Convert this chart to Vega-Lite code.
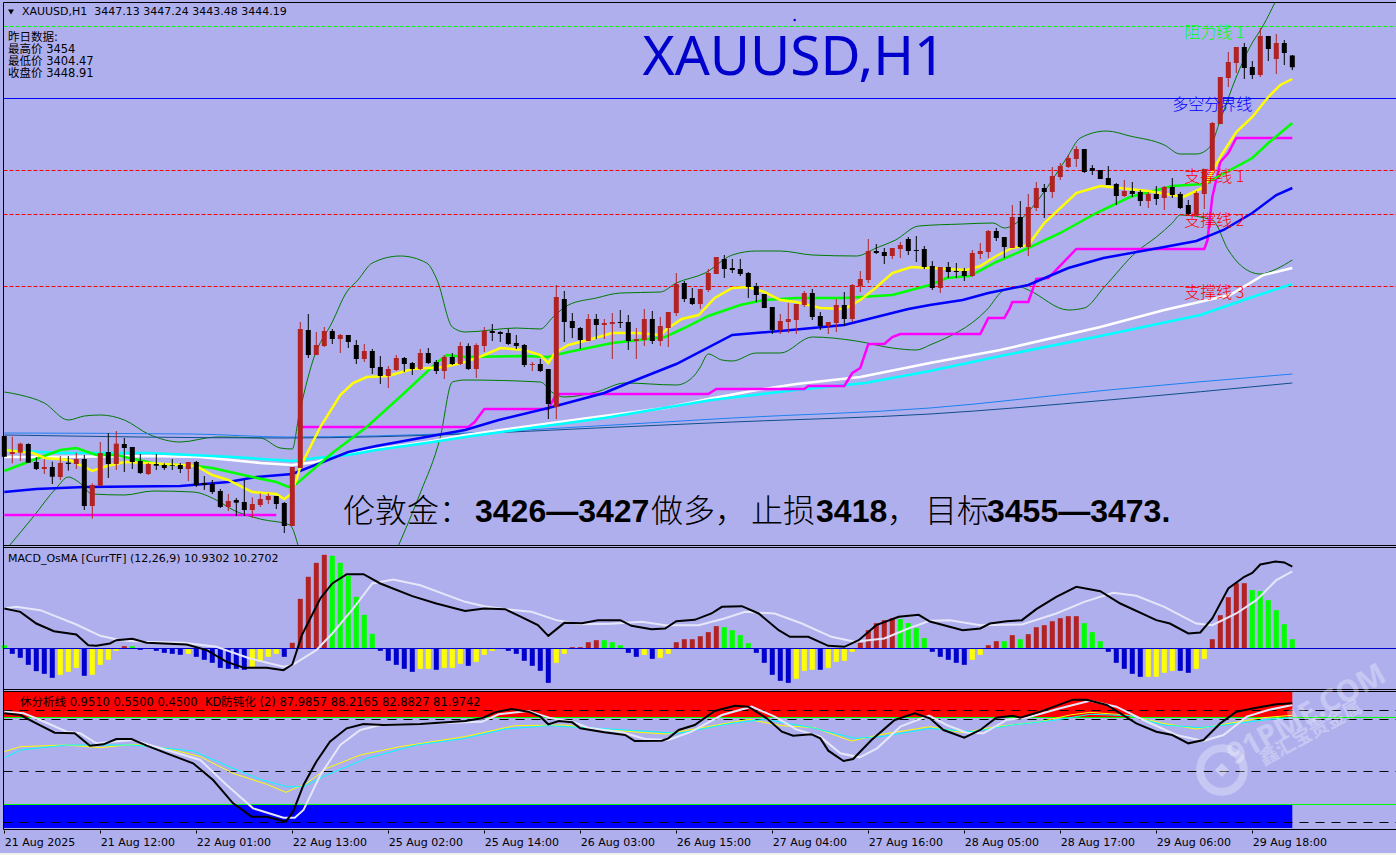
{
"$schema":"https://vega.github.io/schema/vega-lite/v6.json",
"background":"#AFAFEE",
"padding":0,
"autosize":{"type":"none"},
"width":1396,
"height":855,
"view":{"stroke":null},
"resolve":{"scale":{"y":"independent","color":"independent"}},
"datasets":{
"candles":[
{"i":0,"o":3352,"h":3352,"l":3346.83,"c":3346.83},{"i":1,"o":3347.5,"h":3351.83,"l":3345.17,"c":3348},{"i":2,"o":3347.83,"h":3350.33,"l":3345.75,"c":3350.08},{"i":3,"o":3350,"h":3350.17,"l":3345.33,"c":3345.33},{"i":4,"o":3345.5,"h":3346.67,"l":3343.5,"c":3343.75},{"i":5,"o":3343.75,"h":3346.25,"l":3342.5,"c":3344.25},{"i":6,"o":3344.25,"h":3345.58,"l":3340,"c":3341.83},{"i":7,"o":3341.75,"h":3347,"l":3341,"c":3345.25},{"i":8,"o":3345.33,"h":3347,"l":3343.33,"c":3345},{"i":9,"o":3345,"h":3347.83,"l":3343.75,"c":3346.25},
{"i":10,"o":3346.25,"h":3347.25,"l":3333.5,"c":3334.5},{"i":11,"o":3334.5,"h":3340.17,"l":3331.33,"c":3339.75},{"i":12,"o":3339.58,"h":3350.5,"l":3339.5,"c":3347.75},{"i":13,"o":3348,"h":3352.75,"l":3341.5,"c":3345},{"i":14,"o":3345,"h":3353.25,"l":3343.5,"c":3350.08},{"i":15,"o":3350,"h":3351.5,"l":3343,"c":3349},{"i":16,"o":3349.25,"h":3349.25,"l":3343.75,"c":3345.5},{"i":17,"o":3345.75,"h":3347.5,"l":3342.5,"c":3342.75},{"i":18,"o":3342.5,"h":3345.25,"l":3342.25,"c":3345},{"i":19,"o":3345,"h":3347.5,"l":3343.5,"c":3344.58},
{"i":20,"o":3344.75,"h":3345.17,"l":3343.5,"c":3344},{"i":21,"o":3344.75,"h":3346.25,"l":3343.5,"c":3344.58},{"i":22,"o":3344.75,"h":3345.25,"l":3342.75,"c":3343.75},{"i":23,"o":3343.75,"h":3345.5,"l":3340.75,"c":3345.5},{"i":24,"o":3345.5,"h":3345.75,"l":3339.25,"c":3339.75},{"i":25,"o":3340.25,"h":3342,"l":3338.5,"c":3339.75},{"i":26,"o":3340,"h":3341,"l":3337.5,"c":3338},{"i":27,"o":3338.25,"h":3338.75,"l":3334,"c":3334.25},{"i":28,"o":3334.25,"h":3337.5,"l":3333.25,"c":3335.75},{"i":29,"o":3336,"h":3336.5,"l":3332,"c":3335.33},
{"i":30,"o":3335.5,"h":3341,"l":3332,"c":3333.5},{"i":31,"o":3333.5,"h":3336.67,"l":3331.5,"c":3335},{"i":32,"o":3334.75,"h":3337.67,"l":3334.25,"c":3336.25},{"i":33,"o":3336,"h":3337.67,"l":3335,"c":3337},{"i":34,"o":3337,"h":3337,"l":3333.75,"c":3335},{"i":35,"o":3335.25,"h":3335.5,"l":3327.75,"c":3329.5},{"i":36,"o":3329.5,"h":3344.25,"l":3329.5,"c":3344.25},{"i":37,"o":3344,"h":3380.5,"l":3344,"c":3378.75},{"i":38,"o":3378.5,"h":3382.5,"l":3371.5,"c":3372.25},{"i":39,"o":3372.25,"h":3378,"l":3372.25,"c":3374.75},
{"i":40,"o":3374.5,"h":3379.25,"l":3374.25,"c":3378.25},{"i":41,"o":3378.25,"h":3378.75,"l":3375,"c":3376.25},{"i":42,"o":3376.25,"h":3377.5,"l":3372.75,"c":3377.25},{"i":43,"o":3377.25,"h":3377.25,"l":3374,"c":3375.5},{"i":44,"o":3374.75,"h":3376,"l":3370,"c":3371.25},{"i":45,"o":3371.25,"h":3375,"l":3370.5,"c":3373.25},{"i":46,"o":3373.25,"h":3373.75,"l":3367.5,"c":3369},{"i":47,"o":3369.25,"h":3372,"l":3365,"c":3367},{"i":48,"o":3367,"h":3369.5,"l":3364,"c":3368.75},{"i":49,"o":3368.5,"h":3372.25,"l":3368.25,"c":3371.5},
{"i":50,"o":3371.5,"h":3371.75,"l":3368,"c":3370},{"i":51,"o":3370.25,"h":3370.5,"l":3367.25,"c":3368.75},{"i":52,"o":3368.75,"h":3373.75,"l":3368.5,"c":3372.75},{"i":53,"o":3372.75,"h":3374,"l":3370,"c":3370.25},{"i":54,"o":3370.5,"h":3371,"l":3367.5,"c":3368.25},{"i":55,"o":3368.25,"h":3372.25,"l":3366.25,"c":3371.75},{"i":56,"o":3371.75,"h":3372.75,"l":3369.75,"c":3370},{"i":57,"o":3370,"h":3375.5,"l":3369.75,"c":3374.5},{"i":58,"o":3374.5,"h":3375.17,"l":3368.5,"c":3368.75},{"i":59,"o":3368.75,"h":3375.17,"l":3366.5,"c":3374.75},
{"i":60,"o":3374.5,"h":3379.25,"l":3373,"c":3378.25},{"i":61,"o":3378.25,"h":3380,"l":3375.75,"c":3377.75},{"i":62,"o":3378,"h":3378.25,"l":3375.5,"c":3377.5},{"i":63,"o":3377.75,"h":3378.75,"l":3374.75,"c":3375},{"i":64,"o":3375.25,"h":3377.25,"l":3373.75,"c":3374.5},{"i":65,"o":3374.75,"h":3375,"l":3369.25,"c":3369.75},{"i":66,"o":3369.75,"h":3370.5,"l":3368.25,"c":3370},{"i":67,"o":3370,"h":3371.25,"l":3368,"c":3368.25},{"i":68,"o":3368.75,"h":3368.75,"l":3356.25,"c":3360},{"i":69,"o":3359.25,"h":3389.75,"l":3356.25,"c":3386.75},
{"i":70,"o":3386.25,"h":3388.25,"l":3375.5,"c":3380.5},{"i":71,"o":3380.75,"h":3382.75,"l":3376.5,"c":3379},{"i":72,"o":3379,"h":3379.25,"l":3373.75,"c":3376},{"i":73,"o":3375.75,"h":3382.5,"l":3375.75,"c":3381.25},{"i":74,"o":3381.25,"h":3382.5,"l":3376.25,"c":3379.75},{"i":75,"o":3379.75,"h":3381.25,"l":3376.25,"c":3380.25},{"i":76,"o":3380,"h":3382.75,"l":3371.25,"c":3380.5},{"i":77,"o":3380.5,"h":3383.5,"l":3379,"c":3380.25},{"i":78,"o":3380.5,"h":3382.25,"l":3373.5,"c":3375.75},{"i":79,"o":3375.75,"h":3379,"l":3371.25,"c":3376.25},
{"i":80,"o":3376,"h":3383.75,"l":3374.5,"c":3381.25},{"i":81,"o":3381.25,"h":3383.25,"l":3375,"c":3375.75},{"i":82,"o":3375.75,"h":3381.75,"l":3374.5,"c":3379.5},{"i":83,"o":3379,"h":3383,"l":3374.25,"c":3383},{"i":84,"o":3382.75,"h":3392.75,"l":3382,"c":3390},{"i":85,"o":3390.25,"h":3390.75,"l":3385.5,"c":3386.25},{"i":86,"o":3386.5,"h":3389,"l":3384.75,"c":3385},{"i":87,"o":3385,"h":3388.75,"l":3383.75,"c":3388.75},{"i":88,"o":3388.5,"h":3393.75,"l":3388,"c":3392.75},{"i":89,"o":3392.5,"h":3396.75,"l":3392.5,"c":3396.75},
{"i":90,"o":3396.25,"h":3397.25,"l":3391.5,"c":3393.75},{"i":91,"o":3394,"h":3396.25,"l":3392.75,"c":3393.5},{"i":92,"o":3393.75,"h":3396.25,"l":3392,"c":3392.5},{"i":93,"o":3392.75,"h":3393,"l":3386.5,"c":3389.25},{"i":94,"o":3389.5,"h":3390.25,"l":3385.5,"c":3387.25},{"i":95,"o":3387.5,"h":3387.5,"l":3384,"c":3384},{"i":96,"o":3384.25,"h":3384.25,"l":3377.5,"c":3378.5},{"i":97,"o":3378.5,"h":3382.5,"l":3377.5,"c":3380.75},{"i":98,"o":3380.5,"h":3385.25,"l":3377.75,"c":3381.25},{"i":99,"o":3381,"h":3385,"l":3377.5,"c":3385},
{"i":100,"o":3384.75,"h":3388.25,"l":3384.25,"c":3387.75},{"i":101,"o":3387.75,"h":3388.75,"l":3381,"c":3381.75},{"i":102,"o":3382,"h":3383,"l":3378.5,"c":3379.5},{"i":103,"o":3379.5,"h":3380.5,"l":3377.5,"c":3380.5},{"i":104,"o":3380.25,"h":3386.25,"l":3378,"c":3384.75},{"i":105,"o":3384.75,"h":3388,"l":3379.5,"c":3381.25},{"i":106,"o":3381.25,"h":3390,"l":3380.5,"c":3389.75},{"i":107,"o":3389.5,"h":3393.25,"l":3388,"c":3391.25},{"i":108,"o":3391,"h":3401.25,"l":3390.25,"c":3398.25},{"i":109,"o":3398.25,"h":3400,"l":3397.5,"c":3397.75},
{"i":110,"o":3398,"h":3399,"l":3395,"c":3397},{"i":111,"o":3397,"h":3399,"l":3396.25,"c":3399},{"i":112,"o":3398.75,"h":3400.5,"l":3396.5,"c":3399.75},{"i":113,"o":3401.25,"h":3401.75,"l":3397.25,"c":3398.25},{"i":114,"o":3398.5,"h":3402,"l":3395.5,"c":3398.25},{"i":115,"o":3398.75,"h":3399.5,"l":3393.75,"c":3394.25},{"i":116,"o":3394.5,"h":3395.75,"l":3388.5,"c":3389},{"i":117,"o":3389,"h":3394.25,"l":3387.75,"c":3394.25},{"i":118,"o":3394.25,"h":3395.5,"l":3391.5,"c":3393},{"i":119,"o":3393.25,"h":3395.25,"l":3391.5,"c":3393},
{"i":120,"o":3393.25,"h":3394,"l":3390.75,"c":3392},{"i":121,"o":3392,"h":3398.5,"l":3391.75,"c":3397.75},{"i":122,"o":3397.5,"h":3400.25,"l":3396.25,"c":3398.25},{"i":123,"o":3398,"h":3403.5,"l":3396.5,"c":3403.25},{"i":124,"o":3403.25,"h":3404,"l":3400.75,"c":3401.5},{"i":125,"o":3401.75,"h":3401.75,"l":3396.5,"c":3399.25},{"i":126,"o":3399,"h":3409.75,"l":3399,"c":3406.75},{"i":127,"o":3406.75,"h":3410.75,"l":3399,"c":3399.25},{"i":128,"o":3399.25,"h":3412.5,"l":3397,"c":3409.25},{"i":129,"o":3409,"h":3415.5,"l":3408.25,"c":3414},
{"i":130,"o":3414,"h":3415,"l":3406.5,"c":3413},{"i":131,"o":3413,"h":3419.25,"l":3411.5,"c":3417},{"i":132,"o":3416.75,"h":3420.25,"l":3416,"c":3419.5},{"i":133,"o":3419.25,"h":3422.25,"l":3419,"c":3421.5},{"i":134,"o":3421.25,"h":3424.5,"l":3419.25,"c":3423.75},{"i":135,"o":3423.75,"h":3423.75,"l":3417.75,"c":3418},{"i":136,"o":3419,"h":3419.75,"l":3417.25,"c":3418.25},{"i":137,"o":3418.5,"h":3418.5,"l":3416.25,"c":3416.25},{"i":138,"o":3416.5,"h":3419.5,"l":3414.75,"c":3414.75},{"i":139,"o":3415,"h":3415.25,"l":3409.75,"c":3412},
{"i":140,"o":3412,"h":3416,"l":3411.75,"c":3413.25},{"i":141,"o":3413.25,"h":3415.5,"l":3411.75,"c":3412.5},{"i":142,"o":3413,"h":3413.5,"l":3409.5,"c":3410.75},{"i":143,"o":3410.75,"h":3413,"l":3409,"c":3412.5},{"i":144,"o":3412.5,"h":3414.5,"l":3409.75,"c":3411.25},{"i":145,"o":3411.5,"h":3414.5,"l":3408.5,"c":3414.25},{"i":146,"o":3414.25,"h":3416.5,"l":3411.5,"c":3412.25},{"i":147,"o":3412.5,"h":3413,"l":3408.75,"c":3409},{"i":148,"o":3409.75,"h":3411,"l":3407,"c":3407.5},{"i":149,"o":3407.25,"h":3413.25,"l":3407.25,"c":3412.75},
{"i":150,"o":3412.5,"h":3418.75,"l":3408.75,"c":3418.75},{"i":151,"o":3418.5,"h":3430.5,"l":3418.5,"c":3430.25},{"i":152,"o":3430,"h":3441.75,"l":3430,"c":3441.75},{"i":153,"o":3441.5,"h":3448,"l":3439.25,"c":3445.5},{"i":154,"o":3445.25,"h":3449.25,"l":3442.75,"c":3449.25},{"i":155,"o":3449.25,"h":3450.25,"l":3441.25,"c":3444},{"i":156,"o":3444.25,"h":3445.75,"l":3441.25,"c":3442.25},{"i":157,"o":3442.25,"h":3454,"l":3441.75,"c":3452},{"i":158,"o":3452,"h":3452,"l":3445.75,"c":3448.75},{"i":159,"o":3446.25,"h":3452.5,"l":3442.5,"c":3450.25},
{"i":160,"o":3450.25,"h":3451,"l":3444.75,"c":3447.75},{"i":161,"o":3447.13,"h":3447.24,"l":3443.48,"c":3444.19}
],
"thin":[
{"s":"upper","i":0,"v":3363},{"s":"upper","i":2,"v":3362.25},{"s":"upper","i":5,"v":3360.25},{"s":"upper","i":8,"v":3356},{"s":"upper","i":10,"v":3357},{"s":"upper","i":12,"v":3357.25},{"s":"upper","i":15,"v":3356},{"s":"upper","i":18,"v":3352.5},{"s":"upper","i":22,"v":3350.5},{"s":"upper","i":26.5,"v":3351.75},{"s":"upper","i":32,"v":3351.5},{"s":"upper","i":34.5,"v":3349},{"s":"upper","i":36,"v":3348.75},{"s":"upper","i":36.8,"v":3356.75},{"s":"upper","i":38.6,"v":3371},{"s":"upper","i":41,"v":3380.5},{"s":"upper","i":42.8,"v":3388},{"s":"upper","i":44.2,"v":3391},{"s":"upper","i":46,"v":3395.25},{"s":"upper","i":49.5,"v":3397},{"s":"upper","i":52.8,"v":3395.25},{"s":"upper","i":54.1,"v":3391},{"s":"upper","i":56,"v":3379.25},{"s":"upper","i":57.6,"v":3378},{"s":"upper","i":64,"v":3379},{"s":"upper","i":67,"v":3378.75},{"s":"upper","i":68.6,"v":3381.75},{"s":"upper","i":70.5,"v":3384.75},{"s":"upper","i":74,"v":3386.5},{"s":"upper","i":77,"v":3387.75},{"s":"upper","i":82,"v":3388},{"s":"upper","i":84,"v":3390.25},{"s":"upper","i":87.6,"v":3392.75},{"s":"upper","i":91,"v":3397.25},{"s":"upper","i":94,"v":3398.25},{"s":"upper","i":97,"v":3398.25},{"s":"upper","i":101,"v":3397.25},{"s":"upper","i":106.5,"v":3397},{"s":"upper","i":109,"v":3399},{"s":"upper","i":111.4,"v":3401},{"s":"upper","i":114.3,"v":3404.5},{"s":"upper","i":119.8,"v":3405},{"s":"upper","i":123.6,"v":3405.25},{"s":"upper","i":125,"v":3404},{"s":"upper","i":127.4,"v":3406.75},{"s":"upper","i":129.5,"v":3411.75},{"s":"upper","i":132.8,"v":3421.5},{"s":"upper","i":134.5,"v":3426.5},{"s":"upper","i":137.8,"v":3428.25},{"s":"upper","i":140.7,"v":3427},{"s":"upper","i":145,"v":3424.75},{"s":"upper","i":147,"v":3422.5},{"s":"upper","i":149,"v":3422.5},{"s":"upper","i":150.7,"v":3424.25},{"s":"upper","i":152,"v":3431},{"s":"upper","i":154,"v":3441.75},{"s":"upper","i":155.7,"v":3449.25},{"s":"upper","i":157.4,"v":3454.75},{"s":"upper","i":158.8,"v":3460.25},
{"s":"lower1","i":0.7,"v":3324.75},{"s":"lower1","i":3.6,"v":3331.75},{"s":"lower1","i":6.5,"v":3339},{"s":"lower1","i":8,"v":3341.75},{"s":"lower1","i":9.3,"v":3340.5},{"s":"lower1","i":11,"v":3337.5},{"s":"lower1","i":15,"v":3337.25},{"s":"lower1","i":18.6,"v":3338.25},{"s":"lower1","i":23.6,"v":3338},{"s":"lower1","i":26.5,"v":3336},{"s":"lower1","i":28.6,"v":3333.5},{"s":"lower1","i":32,"v":3331.25},{"s":"lower1","i":35.7,"v":3329.75},{"s":"lower1","i":36.7,"v":3324.75},
{"s":"lower2","i":49.3,"v":3324.75},{"s":"lower2","i":52,"v":3337.75},{"s":"lower2","i":54.5,"v":3351.75},{"s":"lower2","i":56,"v":3365.5},{"s":"lower2","i":57.6,"v":3366},{"s":"lower2","i":67,"v":3365.5},{"s":"lower2","i":68.6,"v":3362.75},{"s":"lower2","i":70,"v":3361.75},{"s":"lower2","i":74,"v":3363},{"s":"lower2","i":77.6,"v":3365.25},{"s":"lower2","i":84,"v":3364.75},{"s":"lower2","i":86.3,"v":3367.25},{"s":"lower2","i":87,"v":3369.25},{"s":"lower2","i":88,"v":3372.5},{"s":"lower2","i":89.7,"v":3371},{"s":"lower2","i":91,"v":3370.75},{"s":"lower2","i":94,"v":3372.75},{"s":"lower2","i":97,"v":3372.75},{"s":"lower2","i":101,"v":3376.75},{"s":"lower2","i":106.5,"v":3375.75},{"s":"lower2","i":111,"v":3374},{"s":"lower2","i":114,"v":3373.5},{"s":"lower2","i":115.7,"v":3374.75},{"s":"lower2","i":122.8,"v":3383.5},{"s":"lower2","i":125,"v":3388.5},{"s":"lower2","i":127,"v":3389.25},{"s":"lower2","i":128,"v":3388.5},{"s":"lower2","i":133,"v":3383.5},{"s":"lower2","i":135,"v":3384},{"s":"lower2","i":137.5,"v":3389.25},{"s":"lower2","i":141.5,"v":3398},{"s":"lower2","i":144,"v":3401.75},{"s":"lower2","i":146,"v":3405.25},{"s":"lower2","i":147,"v":3407.25},{"s":"lower2","i":151,"v":3406},{"s":"lower2","i":153,"v":3398.5},{"s":"lower2","i":154.5,"v":3394.75},{"s":"lower2","i":157,"v":3392.5},{"s":"lower2","i":159,"v":3393.75},{"s":"lower2","i":161,"v":3396},
{"s":"slow1","i":0,"v":3352.75},{"s":"slow1","i":23.6,"v":3352.5},{"s":"slow1","i":35.3,"v":3351.75},{"s":"slow1","i":57.6,"v":3352.75},{"s":"slow1","i":74,"v":3354.5},{"s":"slow1","i":91,"v":3356.5},{"s":"slow1","i":115.7,"v":3359},{"s":"slow1","i":138,"v":3363.5},{"s":"slow1","i":161,"v":3367.5},
{"s":"slow2","i":0,"v":3352.25},{"s":"slow2","i":35,"v":3351.5},{"s":"slow2","i":57.6,"v":3352.5},{"s":"slow2","i":74,"v":3354},{"s":"slow2","i":91,"v":3355.5},{"s":"slow2","i":115.7,"v":3357.5},{"s":"slow2","i":138,"v":3361},{"s":"slow2","i":161,"v":3365.25}
],
"thick":[
{"s":"ma144","i":0,"v":3346.75},{"s":"ma144","i":5,"v":3346.75},{"s":"ma144","i":18,"v":3347},{"s":"ma144","i":24.5,"v":3346.75},{"s":"ma144","i":32,"v":3345.25},{"s":"ma144","i":36,"v":3344.75},{"s":"ma144","i":39,"v":3345.5},{"s":"ma144","i":43,"v":3347.75},{"s":"ma144","i":53.6,"v":3350.75},{"s":"ma144","i":57.6,"v":3352.25},{"s":"ma144","i":63,"v":3353.75},{"s":"ma144","i":73,"v":3356.5},{"s":"ma144","i":82.6,"v":3359},{"s":"ma144","i":88,"v":3361.25},{"s":"ma144","i":93.4,"v":3363.25},{"s":"ma144","i":99,"v":3365},{"s":"ma144","i":107,"v":3366.75},{"s":"ma144","i":115.7,"v":3370.25},{"s":"ma144","i":124.5,"v":3373.5},{"s":"ma144","i":137,"v":3379.25},{"s":"ma144","i":145,"v":3383.5},{"s":"ma144","i":153.2,"v":3387.25},{"s":"ma144","i":157.4,"v":3392.25},{"s":"ma144","i":161,"v":3394},
{"s":"ma169","i":0,"v":3348.5},{"s":"ma169","i":7,"v":3347.75},{"s":"ma169","i":18,"v":3347.75},{"s":"ma169","i":28.6,"v":3346.75},{"s":"ma169","i":36,"v":3345.75},{"s":"ma169","i":39,"v":3346.5},{"s":"ma169","i":43,"v":3347.25},{"s":"ma169","i":46.5,"v":3348.5},{"s":"ma169","i":53.6,"v":3350.5},{"s":"ma169","i":57.6,"v":3351.75},{"s":"ma169","i":63,"v":3353.25},{"s":"ma169","i":75,"v":3356.5},{"s":"ma169","i":88.4,"v":3361},{"s":"ma169","i":99,"v":3363.5},{"s":"ma169","i":107.6,"v":3365.25},{"s":"ma169","i":115.7,"v":3368.25},{"s":"ma169","i":124.5,"v":3372},{"s":"ma169","i":137,"v":3377},{"s":"ma169","i":149.5,"v":3382.25},{"s":"ma169","i":156,"v":3386.75},{"s":"ma169","i":161,"v":3390},
{"s":"low1","i":0,"v":3332.25},{"s":"low1","i":34,"v":3332.25},
{"s":"low2","i":37,"v":3354.25},{"s":"low2","i":58,"v":3354.25},{"s":"low2","i":58.8,"v":3355.5},{"s":"low2","i":60,"v":3358.75},{"s":"low2","i":68,"v":3358.75},{"s":"low2","i":69,"v":3362.5},{"s":"low2","i":88,"v":3362.5},{"s":"low2","i":89,"v":3363.75},{"s":"low2","i":100,"v":3363.75},{"s":"low2","i":100.5,"v":3364.5},{"s":"low2","i":105,"v":3364.5},{"s":"low2","i":106,"v":3367.75},{"s":"low2","i":107,"v":3369},{"s":"low2","i":108,"v":3375},{"s":"low2","i":110,"v":3375},{"s":"low2","i":111,"v":3376.75},{"s":"low2","i":112,"v":3377.5},{"s":"low2","i":122,"v":3377.5},{"s":"low2","i":123,"v":3381.5},{"s":"low2","i":125,"v":3381.5},{"s":"low2","i":125.7,"v":3384},{"s":"low2","i":126,"v":3385.5},{"s":"low2","i":128,"v":3385.5},{"s":"low2","i":129,"v":3391.25},{"s":"low2","i":130.5,"v":3391.5},{"s":"low2","i":134,"v":3398.75},{"s":"low2","i":150,"v":3398.75},{"s":"low2","i":150.4,"v":3401},{"s":"low2","i":151,"v":3411.75},{"s":"low2","i":152,"v":3420.5},{"s":"low2","i":153,"v":3422.75},{"s":"low2","i":154,"v":3426.5},{"s":"low2","i":161,"v":3426.5},
{"s":"ma30","i":0,"v":3338},{"s":"ma30","i":4,"v":3338.75},{"s":"ma30","i":10,"v":3339.25},{"s":"ma30","i":22,"v":3339.5},{"s":"ma30","i":28,"v":3340.5},{"s":"ma30","i":31.5,"v":3341.75},{"s":"ma30","i":36,"v":3342.5},{"s":"ma30","i":43,"v":3348},{"s":"ma30","i":46.5,"v":3349.5},{"s":"ma30","i":52,"v":3351.5},{"s":"ma30","i":57.6,"v":3353.5},{"s":"ma30","i":61.8,"v":3356},{"s":"ma30","i":68,"v":3359},{"s":"ma30","i":75,"v":3362.75},{"s":"ma30","i":78,"v":3365.25},{"s":"ma30","i":84,"v":3370},{"s":"ma30","i":91,"v":3377.25},{"s":"ma30","i":97,"v":3378.25},{"s":"ma30","i":105,"v":3379.75},{"s":"ma30","i":113,"v":3383.75},{"s":"ma30","i":115.7,"v":3384.75},{"s":"ma30","i":119.8,"v":3386},{"s":"ma30","i":123,"v":3387.75},{"s":"ma30","i":128,"v":3389.75},{"s":"ma30","i":133,"v":3394},{"s":"ma30","i":137.4,"v":3396.5},{"s":"ma30","i":145,"v":3399.25},{"s":"ma30","i":149,"v":3400.75},{"s":"ma30","i":152.4,"v":3403.5},{"s":"ma30","i":156,"v":3407.75},{"s":"ma30","i":159,"v":3412.25},{"s":"ma30","i":161,"v":3414},
{"s":"ma10","i":0,"v":3343.25},{"s":"ma10","i":3.6,"v":3346},{"s":"ma10","i":7,"v":3348.5},{"s":"ma10","i":9,"v":3349},{"s":"ma10","i":11.5,"v":3347.25},{"s":"ma10","i":14,"v":3347.25},{"s":"ma10","i":19,"v":3345},{"s":"ma10","i":24,"v":3344.5},{"s":"ma10","i":26,"v":3344},{"s":"ma10","i":31,"v":3341.75},{"s":"ma10","i":34,"v":3340.5},{"s":"ma10","i":35.5,"v":3339.25},{"s":"ma10","i":36.5,"v":3340},{"s":"ma10","i":41,"v":3347.75},{"s":"ma10","i":45.3,"v":3354.25},{"s":"ma10","i":50,"v":3362.75},{"s":"ma10","i":54,"v":3370.25},{"s":"ma10","i":55.3,"v":3372.25},{"s":"ma10","i":57.6,"v":3371.75},{"s":"ma10","i":65,"v":3372},{"s":"ma10","i":68,"v":3371.75},{"s":"ma10","i":70.5,"v":3373},{"s":"ma10","i":76,"v":3375.25},{"s":"ma10","i":82.6,"v":3376.75},{"s":"ma10","i":85,"v":3379},{"s":"ma10","i":88,"v":3382},{"s":"ma10","i":92,"v":3384.75},{"s":"ma10","i":95,"v":3386},{"s":"ma10","i":99,"v":3386.5},{"s":"ma10","i":105,"v":3386.5},{"s":"ma10","i":111,"v":3387.25},{"s":"ma10","i":115.7,"v":3389.75},{"s":"ma10","i":117.8,"v":3391.5},{"s":"ma10","i":120.7,"v":3392},{"s":"ma10","i":124,"v":3395.5},{"s":"ma10","i":128,"v":3399},{"s":"ma10","i":132,"v":3402.75},{"s":"ma10","i":136.5,"v":3407.75},{"s":"ma10","i":140.7,"v":3411.75},{"s":"ma10","i":146,"v":3414.5},{"s":"ma10","i":150,"v":3415},{"s":"ma10","i":156,"v":3421.5},{"s":"ma10","i":158,"v":3425.25},{"s":"ma10","i":161,"v":3430.25},
{"s":"ma5","i":0,"v":3348.5},{"s":"ma5","i":3.6,"v":3347.75},{"s":"ma5","i":5,"v":3346.5},{"s":"ma5","i":8.2,"v":3346},{"s":"ma5","i":10.3,"v":3344},{"s":"ma5","i":11,"v":3343.25},{"s":"ma5","i":12.4,"v":3344.25},{"s":"ma5","i":15,"v":3345.5},{"s":"ma5","i":18,"v":3345.25},{"s":"ma5","i":22,"v":3344.75},{"s":"ma5","i":24,"v":3344.5},{"s":"ma5","i":26,"v":3342.25},{"s":"ma5","i":28,"v":3341},{"s":"ma5","i":31,"v":3338},{"s":"ma5","i":34,"v":3337.5},{"s":"ma5","i":35,"v":3336.25},{"s":"ma5","i":35.7,"v":3337.25},{"s":"ma5","i":36.5,"v":3341},{"s":"ma5","i":37,"v":3344.25},{"s":"ma5","i":39.5,"v":3354.25},{"s":"ma5","i":42,"v":3362.25},{"s":"ma5","i":43.6,"v":3365.25},{"s":"ma5","i":45.3,"v":3366.75},{"s":"ma5","i":48,"v":3367},{"s":"ma5","i":51,"v":3368.75},{"s":"ma5","i":55,"v":3369.25},{"s":"ma5","i":57.6,"v":3370.5},{"s":"ma5","i":60,"v":3372.25},{"s":"ma5","i":62,"v":3374},{"s":"ma5","i":65,"v":3373.5},{"s":"ma5","i":67,"v":3372.25},{"s":"ma5","i":68,"v":3370.25},{"s":"ma5","i":68.8,"v":3372.75},{"s":"ma5","i":70.5,"v":3374.75},{"s":"ma5","i":73,"v":3376},{"s":"ma5","i":76,"v":3377.75},{"s":"ma5","i":79,"v":3377.75},{"s":"ma5","i":82,"v":3377.25},{"s":"ma5","i":83,"v":3379},{"s":"ma5","i":84.7,"v":3381.25},{"s":"ma5","i":86.8,"v":3382.25},{"s":"ma5","i":88.8,"v":3386.5},{"s":"ma5","i":91,"v":3389},{"s":"ma5","i":93,"v":3389.25},{"s":"ma5","i":95,"v":3388},{"s":"ma5","i":97,"v":3386},{"s":"ma5","i":99,"v":3385.5},{"s":"ma5","i":102,"v":3384},{"s":"ma5","i":105,"v":3383.75},{"s":"ma5","i":107,"v":3386},{"s":"ma5","i":108.9,"v":3389},{"s":"ma5","i":111,"v":3392.75},{"s":"ma5","i":113.4,"v":3394.25},{"s":"ma5","i":115.7,"v":3394},{"s":"ma5","i":120.3,"v":3393.5},{"s":"ma5","i":122,"v":3394.5},{"s":"ma5","i":124,"v":3397},{"s":"ma5","i":126,"v":3399},{"s":"ma5","i":128,"v":3399.75},{"s":"ma5","i":130,"v":3405.25},{"s":"ma5","i":134,"v":3412.75},{"s":"ma5","i":137,"v":3414.5},{"s":"ma5","i":143,"v":3413.25},{"s":"ma5","i":147.4,"v":3411.75},{"s":"ma5","i":150,"v":3414.25},{"s":"ma5","i":152,"v":3421.75},{"s":"ma5","i":154,"v":3428},{"s":"ma5","i":156,"v":3431.75},{"s":"ma5","i":158,"v":3436.75},{"s":"ma5","i":159.5,"v":3439.75},{"s":"ma5","i":161,"v":3441.25}
],
"hist":[
{"i":0,"v":0.44,"k":"g"},{"i":1,"v":-0.71,"k":"b"},{"i":2,"v":-1.24,"k":"b"},{"i":3,"v":-2.18,"k":"b"},{"i":4,"v":-3.02,"k":"b"},{"i":5,"v":-3.38,"k":"b"},{"i":6,"v":-3.91,"k":"b"},{"i":7,"v":-3.51,"k":"y"},{"i":8,"v":-3.11,"k":"y"},{"i":9,"v":-2.58,"k":"y"},{"i":10,"v":-3.64,"k":"b"},{"i":11,"v":-3.51,"k":"y"},{"i":12,"v":-2.18,"k":"y"},{"i":13,"v":-1.51,"k":"y"},{"i":14,"v":-0.31,"k":"y"},{"i":15,"v":0.31,"k":"r"},{"i":16,"v":0.31,"k":"g"},{"i":17,"v":-0.18,"k":"b"},{"i":18,"v":0,"k":"b"},{"i":19,"v":-0.31,"k":"b"},{"i":20,"v":-0.58,"k":"b"},{"i":21,"v":-0.71,"k":"b"},{"i":22,"v":-0.84,"k":"b"},{"i":23,"v":-0.71,"k":"y"},{"i":24,"v":-1.11,"k":"b"},{"i":25,"v":-1.51,"k":"b"},{"i":26,"v":-1.91,"k":"b"},{"i":27,"v":-2.58,"k":"b"},{"i":28,"v":-2.71,"k":"b"},{"i":29,"v":-2.71,"k":"b"},{"i":30,"v":-2.84,"k":"b"},{"i":31,"v":-2.44,"k":"y"},{"i":32,"v":-1.78,"k":"y"},{"i":33,"v":-1.11,"k":"y"},{"i":34,"v":-0.71,"k":"y"},{"i":35,"v":-1.11,"k":"b"},{"i":36,"v":0.76,"k":"r"},{"i":37,"v":6.62,"k":"r"},{"i":38,"v":9.56,"k":"r"},{"i":39,"v":11.42,"k":"r"},{"i":40,"v":12.49,"k":"r"},{"i":41,"v":12.36,"k":"g"},{"i":42,"v":11.42,"k":"g"},{"i":43,"v":9.69,"k":"g"},{"i":44,"v":6.89,"k":"g"},{"i":45,"v":4.49,"k":"g"},{"i":46,"v":1.96,"k":"g"},{"i":47,"v":-0.31,"k":"b"},{"i":48,"v":-1.64,"k":"b"},{"i":49,"v":-2.18,"k":"b"},{"i":50,"v":-2.71,"k":"b"},{"i":51,"v":-3.11,"k":"b"},{"i":52,"v":-2.71,"k":"y"},{"i":53,"v":-2.71,"k":"y"},{"i":54,"v":-2.84,"k":"b"},{"i":55,"v":-2.58,"k":"y"},{"i":56,"v":-2.58,"k":"y"},{"i":57,"v":-2.04,"k":"y"},
{"i":58,"v":-2.31,"k":"b"},{"i":59,"v":-1.78,"k":"y"},{"i":60,"v":-0.84,"k":"y"},{"i":61,"v":-0.31,"k":"y"},{"i":62,"v":0,"k":"b"},{"i":63,"v":-0.31,"k":"b"},{"i":64,"v":-0.71,"k":"b"},{"i":65,"v":-1.64,"k":"b"},{"i":66,"v":-2.31,"k":"b"},{"i":67,"v":-2.98,"k":"b"},{"i":68,"v":-4.58,"k":"b"},{"i":69,"v":-1.91,"k":"y"},{"i":70,"v":-0.71,"k":"y"},{"i":71,"v":0.18,"k":"r"},{"i":72,"v":0.18,"k":"r"},{"i":73,"v":0.84,"k":"r"},{"i":74,"v":1.11,"k":"r"},{"i":75,"v":1.11,"k":"g"},{"i":76,"v":0.84,"k":"g"},{"i":77,"v":0.44,"k":"g"},{"i":78,"v":-0.58,"k":"b"},{"i":79,"v":-1.11,"k":"b"},{"i":80,"v":-0.84,"k":"y"},{"i":81,"v":-1.38,"k":"b"},{"i":82,"v":-1.24,"k":"y"},{"i":83,"v":-0.71,"k":"y"},{"i":84,"v":0.84,"k":"r"},{"i":85,"v":1.24,"k":"r"},{"i":86,"v":1.24,"k":"r"},{"i":87,"v":1.64,"k":"r"},{"i":88,"v":2.18,"k":"r"},{"i":89,"v":2.98,"k":"r"},{"i":90,"v":2.84,"k":"g"},{"i":91,"v":2.44,"k":"g"},{"i":92,"v":1.78,"k":"g"},{"i":93,"v":0.71,"k":"g"},{"i":94,"v":-0.58,"k":"b"},{"i":95,"v":-1.91,"k":"b"},{"i":96,"v":-3.51,"k":"b"},{"i":97,"v":-4.31,"k":"b"},{"i":98,"v":-4.58,"k":"b"},{"i":99,"v":-4.04,"k":"y"},{"i":100,"v":-2.98,"k":"y"},{"i":101,"v":-2.84,"k":"y"},{"i":102,"v":-2.84,"k":"b"},{"i":103,"v":-2.58,"k":"y"},{"i":104,"v":-1.78,"k":"y"},{"i":105,"v":-1.64,"k":"y"},{"i":106,"v":-0.44,"k":"y"},{"i":107,"v":0.76,"k":"r"},{"i":108,"v":2.44,"k":"r"},{"i":109,"v":3.38,"k":"r"},{"i":110,"v":3.78,"k":"r"},{"i":111,"v":4.04,"k":"r"},{"i":112,"v":3.91,"k":"g"},{"i":113,"v":3.38,"k":"g"},{"i":114,"v":2.71,"k":"g"},{"i":115,"v":1.38,"k":"g"},
{"i":116,"v":-0.44,"k":"b"},{"i":117,"v":-1.11,"k":"b"},{"i":118,"v":-1.51,"k":"b"},{"i":119,"v":-1.91,"k":"b"},{"i":120,"v":-2.18,"k":"b"},{"i":121,"v":-1.51,"k":"y"},{"i":122,"v":-0.84,"k":"y"},{"i":123,"v":0.44,"k":"r"},{"i":124,"v":0.98,"k":"r"},{"i":125,"v":0.98,"k":"g"},{"i":126,"v":1.78,"k":"r"},{"i":127,"v":1.24,"k":"g"},{"i":128,"v":1.91,"k":"r"},{"i":129,"v":2.84,"k":"r"},{"i":130,"v":3.11,"k":"r"},{"i":131,"v":3.64,"k":"r"},{"i":132,"v":4.04,"k":"r"},{"i":133,"v":4.31,"k":"r"},{"i":134,"v":4.31,"k":"r"},{"i":135,"v":3.38,"k":"g"},{"i":136,"v":2.18,"k":"g"},{"i":137,"v":0.98,"k":"g"},{"i":138,"v":-0.44,"k":"b"},{"i":139,"v":-1.91,"k":"b"},{"i":140,"v":-2.71,"k":"b"},{"i":141,"v":-3.38,"k":"b"},{"i":142,"v":-3.78,"k":"b"},{"i":143,"v":-3.78,"k":"y"},{"i":144,"v":-3.78,"k":"y"},{"i":145,"v":-3.24,"k":"y"},{"i":146,"v":-2.98,"k":"y"},{"i":147,"v":-2.98,"k":"b"},{"i":148,"v":-3.24,"k":"b"},{"i":149,"v":-2.71,"k":"y"},{"i":150,"v":-1.38,"k":"y"},{"i":151,"v":1.24,"k":"r"},{"i":152,"v":4.44,"k":"r"},{"i":153,"v":6.84,"k":"r"},{"i":154,"v":8.71,"k":"r"},{"i":155,"v":8.71,"k":"r"},{"i":156,"v":7.78,"k":"g"},{"i":157,"v":7.64,"k":"g"},{"i":158,"v":6.44,"k":"g"},{"i":159,"v":5.11,"k":"g"},{"i":160,"v":3.24,"k":"g"},{"i":161,"v":1.24,"k":"g"}
],
"macd":[
{"s":"signal","i":0,"v":5.33},{"s":"signal","i":1.5,"v":5.56},{"s":"signal","i":4.5,"v":5.11},{"s":"signal","i":9,"v":3.2},{"s":"signal","i":12,"v":1.69},{"s":"signal","i":14.5,"v":1.11},{"s":"signal","i":17.4,"v":0.89},{"s":"signal","i":22.4,"v":0.76},{"s":"signal","i":26.5,"v":0.22},{"s":"signal","i":30.7,"v":-1.33},{"s":"signal","i":34.9,"v":-2.44},{"s":"signal","i":36,"v":-2.22},{"s":"signal","i":39,"v":-0.22},{"s":"signal","i":41,"v":2},{"s":"signal","i":43.6,"v":5.33},{"s":"signal","i":46,"v":8.67},{"s":"signal","i":48.6,"v":9.2},{"s":"signal","i":52,"v":8.44},{"s":"signal","i":57.6,"v":6.22},{"s":"signal","i":60,"v":5.64},{"s":"signal","i":62.6,"v":5.24},{"s":"signal","i":65.9,"v":4.89},{"s":"signal","i":69,"v":3.78},{"s":"signal","i":72,"v":3.24},{"s":"signal","i":75.9,"v":3.29},{"s":"signal","i":79.7,"v":3.56},{"s":"signal","i":82.6,"v":3.11},{"s":"signal","i":86.8,"v":3.11},{"s":"signal","i":90,"v":4},{"s":"signal","i":92.6,"v":4.89},{"s":"signal","i":96.3,"v":4.67},{"s":"signal","i":99.7,"v":3.33},{"s":"signal","i":103.4,"v":1.56},{"s":"signal","i":106.3,"v":0.89},{"s":"signal","i":110,"v":1.33},{"s":"signal","i":113,"v":2.67},{"s":"signal","i":115.7,"v":3.7},{"s":"signal","i":118.2,"v":3.78},{"s":"signal","i":122,"v":3.11},{"s":"signal","i":127.2,"v":3.2},{"s":"signal","i":131.5,"v":4.67},{"s":"signal","i":135,"v":6.22},{"s":"signal","i":138.6,"v":7.42},{"s":"signal","i":141.5,"v":7.02},{"s":"signal","i":145,"v":5.56},{"s":"signal","i":149,"v":3.33},{"s":"signal","i":151,"v":3.11},{"s":"signal","i":154,"v":4.67},{"s":"signal","i":156.5,"v":6.44},{"s":"signal","i":159,"v":9.11},{"s":"signal","i":161,"v":10.27},
{"s":"main","i":0,"v":5.33},{"s":"main","i":2,"v":4.89},{"s":"main","i":4,"v":3.33},{"s":"main","i":6.2,"v":2.31},{"s":"main","i":9,"v":1.87},{"s":"main","i":10.5,"v":0.44},{"s":"main","i":11.5,"v":0.36},{"s":"main","i":13.2,"v":0.67},{"s":"main","i":14,"v":1.11},{"s":"main","i":16,"v":1.29},{"s":"main","i":17.8,"v":0.76},{"s":"main","i":22.8,"v":0.53},{"s":"main","i":25.3,"v":-0.22},{"s":"main","i":27.8,"v":-1.78},{"s":"main","i":30,"v":-2.58},{"s":"main","i":32.8,"v":-2.58},{"s":"main","i":34.9,"v":-2.89},{"s":"main","i":36,"v":-2.13},{"s":"main","i":37.2,"v":1.78},{"s":"main","i":39.5,"v":6.67},{"s":"main","i":41,"v":8.67},{"s":"main","i":42.8,"v":9.91},{"s":"main","i":44.9,"v":9.91},{"s":"main","i":47,"v":8.67},{"s":"main","i":51,"v":6.98},{"s":"main","i":54,"v":6},{"s":"main","i":57.6,"v":5},{"s":"main","i":60,"v":5.33},{"s":"main","i":62.6,"v":5.24},{"s":"main","i":64.6,"v":4.22},{"s":"main","i":66.7,"v":3.11},{"s":"main","i":68,"v":1.69},{"s":"main","i":70,"v":3.42},{"s":"main","i":72.2,"v":3.38},{"s":"main","i":74.2,"v":3.78},{"s":"main","i":77,"v":3.78},{"s":"main","i":78.4,"v":3.02},{"s":"main","i":80.9,"v":2.58},{"s":"main","i":82.6,"v":2.67},{"s":"main","i":84,"v":3.64},{"s":"main","i":86.3,"v":3.82},{"s":"main","i":88.4,"v":4.67},{"s":"main","i":89.7,"v":5.56},{"s":"main","i":92.2,"v":5.64},{"s":"main","i":94.3,"v":4.67},{"s":"main","i":96.8,"v":2.44},{"s":"main","i":98.2,"v":1.56},{"s":"main","i":100.5,"v":1.56},{"s":"main","i":103,"v":0.36},{"s":"main","i":105,"v":0.22},{"s":"main","i":106.8,"v":1.11},{"s":"main","i":109,"v":3.11},{"s":"main","i":111.8,"v":4.22},{"s":"main","i":114.3,"v":4.49},{"s":"main","i":115.7,"v":3.6},{"s":"main","i":119.8,"v":2.44},{"s":"main","i":122,"v":2.67},{"s":"main","i":123.2,"v":3.33},{"s":"main","i":125.3,"v":3.64},{"s":"main","i":127.2,"v":3.78},{"s":"main","i":129,"v":5.24},{"s":"main","i":131.5,"v":6.89},{"s":"main","i":134,"v":8.22},{"s":"main","i":137,"v":7.64},{"s":"main","i":139.5,"v":6},{"s":"main","i":144,"v":3.78},{"s":"main","i":145.7,"v":3.33},{"s":"main","i":148,"v":2},{"s":"main","i":149.5,"v":2.13},{"s":"main","i":151,"v":4},{"s":"main","i":153,"v":8},{"s":"main","i":155,"v":9.56},{"s":"main","i":156,"v":10.09},{"s":"main","i":157,"v":11.2},{"s":"main","i":158.9,"v":11.6},{"s":"main","i":160,"v":11.47},{"s":"main","i":161,"v":10.93}
],
"kdthin":[
{"s":"kslow","i":0,"v":67.6},{"s":"kslow","i":2,"v":69.7},{"s":"kslow","i":7.8,"v":70.4},{"s":"kslow","i":12,"v":69.28},{"s":"kslow","i":16.1,"v":70.68},{"s":"kslow","i":20.3,"v":69},{"s":"kslow","i":24.5,"v":65.5},{"s":"kslow","i":28.6,"v":58.5},{"s":"kslow","i":32.8,"v":53.88},{"s":"kslow","i":35.2,"v":50.52},{"s":"kslow","i":37.8,"v":54.3},{"s":"kslow","i":40.3,"v":60.6},{"s":"kslow","i":44.5,"v":66.2},{"s":"kslow","i":49.5,"v":69.7},{"s":"kslow","i":57.6,"v":73.9},{"s":"kslow","i":63.8,"v":78.52},{"s":"kslow","i":70,"v":78.8},{"s":"kslow","i":74.2,"v":77.12},{"s":"kslow","i":78.4,"v":76},{"s":"kslow","i":82.6,"v":75.02},{"s":"kslow","i":86.8,"v":77.4},{"s":"kslow","i":93,"v":81.18},{"s":"kslow","i":97.2,"v":78.52},{"s":"kslow","i":101.3,"v":77.68},{"s":"kslow","i":105.9,"v":72.08},{"s":"kslow","i":109.7,"v":74.88},{"s":"kslow","i":115.7,"v":78.1},{"s":"kslow","i":119.9,"v":75.58},{"s":"kslow","i":124,"v":78.1},{"s":"kslow","i":129.5,"v":80.2},{"s":"kslow","i":133.2,"v":83},{"s":"kslow","i":135.7,"v":84.12},{"s":"kslow","i":140.3,"v":83},{"s":"kslow","i":144.9,"v":79.5},{"s":"kslow","i":149,"v":77.12},{"s":"kslow","i":152.4,"v":79.08},{"s":"kslow","i":157.4,"v":81.88},{"s":"kslow","i":161,"v":82.88},
{"s":"dslow","i":0,"v":65.08},{"s":"dslow","i":2,"v":68.3},{"s":"dslow","i":7.8,"v":70.4},{"s":"dslow","i":16.1,"v":70.4},{"s":"dslow","i":23.6,"v":67.88},{"s":"dslow","i":28.6,"v":60.6},{"s":"dslow","i":32,"v":55.98},{"s":"dslow","i":35.3,"v":52.9},{"s":"dslow","i":37.4,"v":52.9},{"s":"dslow","i":40.3,"v":57.8},{"s":"dslow","i":45.3,"v":64.8},{"s":"dslow","i":51.5,"v":70.4},{"s":"dslow","i":57.6,"v":73.2},{"s":"dslow","i":62.6,"v":77.12},{"s":"dslow","i":68,"v":78.52},{"s":"dslow","i":74.2,"v":77.4},{"s":"dslow","i":79.7,"v":76.28},{"s":"dslow","i":84.3,"v":75.3},{"s":"dslow","i":90.9,"v":79.5},{"s":"dslow","i":95,"v":81.18},{"s":"dslow","i":101,"v":77.68},{"s":"dslow","i":106.3,"v":73.2},{"s":"dslow","i":109.7,"v":73.9},{"s":"dslow","i":115.7,"v":77.4},{"s":"dslow","i":121,"v":76},{"s":"dslow","i":126,"v":78.8},{"s":"dslow","i":131.5,"v":80.9},{"s":"dslow","i":135.7,"v":83.28},{"s":"dslow","i":140.7,"v":82.72},{"s":"dslow","i":144.9,"v":78.8},{"s":"dslow","i":149.5,"v":77.68},{"s":"dslow","i":153.2,"v":79.08},{"s":"dslow","i":157.4,"v":80.9},{"s":"dslow","i":161,"v":81.97}
],
"kdthick":[
{"s":"d","i":0,"v":84.4},{"s":"d","i":2.4,"v":83.7},{"s":"d","i":4.5,"v":80.9},{"s":"d","i":7.8,"v":76},{"s":"d","i":9.5,"v":75.3},{"s":"d","i":11.5,"v":71.1},{"s":"d","i":16.1,"v":72.5},{"s":"d","i":20.3,"v":68.3},{"s":"d","i":24.5,"v":64.1},{"s":"d","i":27.8,"v":53.6},{"s":"d","i":31.1,"v":43.8},{"s":"d","i":34.9,"v":39.88},{"s":"d","i":36.3,"v":39.88},{"s":"d","i":37.4,"v":43.1},{"s":"d","i":39.5,"v":57.8},{"s":"d","i":42,"v":70.4},{"s":"d","i":44.5,"v":76.7},{"s":"d","i":47,"v":78.8},{"s":"d","i":57.6,"v":79.92},{"s":"d","i":59.7,"v":80.2},{"s":"d","i":61.8,"v":83.28},{"s":"d","i":65.5,"v":84.68},{"s":"d","i":68.4,"v":81.6},{"s":"d","i":71,"v":80.2},{"s":"d","i":73,"v":77.68},{"s":"d","i":77.2,"v":75.72},{"s":"d","i":80.1,"v":72.92},{"s":"d","i":83,"v":72.5},{"s":"d","i":85.9,"v":76},{"s":"d","i":89.7,"v":83},{"s":"d","i":93.4,"v":86.5},{"s":"d","i":96.3,"v":82.3},{"s":"d","i":99,"v":76.98},{"s":"d","i":102,"v":73.9},{"s":"d","i":104.5,"v":66.9},{"s":"d","i":106.9,"v":65.22},{"s":"d","i":109.1,"v":69},{"s":"d","i":112,"v":78.1},{"s":"d","i":115.6,"v":82.72},{"s":"d","i":117.8,"v":78.8},{"s":"d","i":120.3,"v":75.58},{"s":"d","i":122.4,"v":75.3},{"s":"d","i":125.3,"v":80.9},{"s":"d","i":128,"v":82.02},{"s":"d","i":132,"v":85.8},{"s":"d","i":135.7,"v":89.02},{"s":"d","i":139,"v":86.5},{"s":"d","i":142.4,"v":80.9},{"s":"d","i":146.5,"v":74.6},{"s":"d","i":149.9,"v":72.08},{"s":"d","i":152.4,"v":74.6},{"s":"d","i":155.3,"v":82.3},{"s":"d","i":158,"v":85.1},{"s":"d","i":161,"v":87.2},
{"s":"k","i":0,"v":83.7},{"s":"k","i":2,"v":83},{"s":"k","i":4,"v":79.5},{"s":"k","i":6.3,"v":75.58},{"s":"k","i":8.8,"v":75.3},{"s":"k","i":10.7,"v":70.12},{"s":"k","i":12.4,"v":70.68},{"s":"k","i":14,"v":72.92},{"s":"k","i":15.9,"v":72.92},{"s":"k","i":17.8,"v":70.12},{"s":"k","i":20.3,"v":66.9},{"s":"k","i":23.6,"v":62.7},{"s":"k","i":26.1,"v":55.7},{"s":"k","i":28.6,"v":45.9},{"s":"k","i":30.9,"v":40.3},{"s":"k","i":32.8,"v":40.3},{"s":"k","i":35.2,"v":38.2},{"s":"k","i":36.1,"v":42.4},{"s":"k","i":37.4,"v":53.6},{"s":"k","i":39,"v":63.4},{"s":"k","i":40.7,"v":71.8},{"s":"k","i":42.8,"v":77.4},{"s":"k","i":44.9,"v":79.22},{"s":"k","i":47.4,"v":78.8},{"s":"k","i":52,"v":79.22},{"s":"k","i":57.6,"v":80.48},{"s":"k","i":59.7,"v":81.6},{"s":"k","i":61.3,"v":84.12},{"s":"k","i":63.4,"v":85.52},{"s":"k","i":65.5,"v":84.4},{"s":"k","i":67,"v":82.3},{"s":"k","i":68,"v":79.08},{"s":"k","i":69.3,"v":80.48},{"s":"k","i":71,"v":79.92},{"s":"k","i":72,"v":77.4},{"s":"k","i":75,"v":75.72},{"s":"k","i":77.6,"v":74.6},{"s":"k","i":78.8,"v":72.08},{"s":"k","i":82.2,"v":72.22},{"s":"k","i":83,"v":73.2},{"s":"k","i":84.3,"v":76.7},{"s":"k","i":86.3,"v":78.8},{"s":"k","i":88.8,"v":84.68},{"s":"k","i":91.3,"v":86.92},{"s":"k","i":93,"v":86.5},{"s":"k","i":95.3,"v":81.6},{"s":"k","i":97.2,"v":76},{"s":"k","i":98.6,"v":74.32},{"s":"k","i":100.9,"v":74.88},{"s":"k","i":102,"v":73.2},{"s":"k","i":103,"v":68.02},{"s":"k","i":104.9,"v":63.68},{"s":"k","i":106.1,"v":64.52},{"s":"k","i":108.4,"v":72.5},{"s":"k","i":111.3,"v":80.9},{"s":"k","i":113.8,"v":83.7},{"s":"k","i":115.7,"v":81.6},{"s":"k","i":117.4,"v":76.7},{"s":"k","i":120,"v":73.48},{"s":"k","i":122,"v":76.7},{"s":"k","i":124,"v":81.88},{"s":"k","i":126,"v":82.72},{"s":"k","i":127,"v":81.88},{"s":"k","i":129.5,"v":84.4},{"s":"k","i":133.6,"v":89.44},{"s":"k","i":135.3,"v":89.44},{"s":"k","i":137.8,"v":87.2},{"s":"k","i":141.5,"v":79.5},{"s":"k","i":144,"v":76},{"s":"k","i":146,"v":74.6},{"s":"k","i":148,"v":71.1},{"s":"k","i":149.9,"v":72.5},{"s":"k","i":152,"v":79.5},{"s":"k","i":154,"v":84.4},{"s":"k","i":156.5,"v":86.08},{"s":"k","i":159,"v":87.48},{"s":"k","i":161,"v":87.98}
]
},
"encoding":{"x":{"field":"i","type":"quantitative","scale":{"domain":[-0.5375,173.9625],"nice":false,"zero":false,"padding":0},
"axis":{"title":null,"offset":-25,"values":[0,12,24,36,48,60,72,84,96,108,120,132,144,156],"labelExpr":"['21 Aug 2025','21 Aug 12:00','22 Aug 01:00','22 Aug 13:00','25 Aug 02:00','25 Aug 14:00','26 Aug 03:00','26 Aug 15:00','27 Aug 04:00','27 Aug 16:00','28 Aug 05:00','28 Aug 17:00','29 Aug 06:00','29 Aug 18:00'][datum.value/12]","labelAlign":"left","labelFont":"DejaVu Sans","labelFontSize":11,"labelColor":"#000000","labelPadding":3,"tickColor":"#000000","tickSize":3,"domain":false,"grid":false,"labelOverlap":false,"labelFlush":false}}},
"layer":[
{"data":{"values":[{"i":-0.5375,"b":173.9625,"v":3247.75,"w":3247.25}]},"mark":{"type":"rect","fill":"#F0F0F0"},
"encoding":{"x2":{"field":"b"},"y":{"field":"v","type":"quantitative","scale":{"domain":[3247.25,3461],"nice":false,"zero":false},"axis":null},"y2":{"field":"w"}}},
{"data":{"name":"thin"},"mark":{"type":"line","strokeWidth":1,"interpolate":"monotone"},
"encoding":{"y":{"field":"v","type":"quantitative","scale":{"domain":[3247.25,3461],"nice":false,"zero":false},"axis":null},"color":{"field":"s","type":"nominal","legend":null,"scale":{"domain":["upper","lower1","lower2","slow1","slow2"],"range":["#007A00","#007A00","#007A00","#1E80F0","#104E8B"]}}}},
{"data":{"values":[{"i":-0.1,"b":173.9625,"v":3454.375}]},"mark":{"type":"rule","strokeWidth":1,"strokeDash":[4,2],"stroke":"#00FF00"},
"encoding":{"x2":{"field":"b"},"y":{"field":"v","type":"quantitative","scale":{"domain":[3247.25,3461],"nice":false,"zero":false},"axis":null}}},
{"data":{"values":[{"i":-0.1,"b":173.9625,"v":3418.375},{"i":-0.1,"b":173.9625,"v":3407.375},{"i":-0.1,"b":173.9625,"v":3389.375}]},"mark":{"type":"rule","strokeWidth":1,"strokeDash":[4,2],"stroke":"#FF0000"},
"encoding":{"x2":{"field":"b"},"y":{"field":"v","type":"quantitative","scale":{"domain":[3247.25,3461],"nice":false,"zero":false},"axis":null}}},
{"data":{"values":[{"i":-0.1,"b":173.9625,"v":3436.375}]},"mark":{"type":"rule","strokeWidth":1,"stroke":"#0000FF"},
"encoding":{"x2":{"field":"b"},"y":{"field":"v","type":"quantitative","scale":{"domain":[3247.25,3461],"nice":false,"zero":false},"axis":null}}},
{"data":{"name":"thick"},"mark":{"type":"line","strokeWidth":2.5},
"encoding":{"y":{"field":"v","type":"quantitative","scale":{"domain":[3247.25,3461],"nice":false,"zero":false},"axis":null},"color":{"field":"s","type":"nominal","legend":null,"scale":{"domain":["ma144","ma169","low1","low2","ma30","ma10","ma5"],"range":["#FFFFFF","#00FFFF","#FF00FF","#FF00FF","#0000FF","#00FF00","#FFFF00"]}}}},
{"data":{"name":"candles"},"mark":{"type":"rule","strokeWidth":1},
"encoding":{"y":{"field":"l","type":"quantitative","scale":{"domain":[3247.25,3461],"nice":false,"zero":false},"axis":null},"y2":{"field":"h"},
"color":{"condition":{"test":"datum.c>datum.o","value":"#B22222"},"value":"#000000"}}},
{"data":{"name":"candles"},"mark":{"type":"bar","size":5,"orient":"vertical"},
"encoding":{"y":{"field":"o","type":"quantitative","scale":{"domain":[3247.25,3461],"nice":false,"zero":false},"axis":null},"y2":{"field":"c"},
"color":{"condition":{"test":"datum.c>datum.o","value":"#B22222"},"value":"#000000"}}},
{"data":{"values":[{"i":98.7,"v":3446.5,"t":"XAUUSD,H1"}]},"mark":{"type":"text","font":"Noto Sans","fontSize":55,"color":"#0000CD","align":"center","baseline":"middle"},"encoding":{"y":{"field":"v","type":"quantitative","scale":{"domain":[3247.25,3461],"nice":false,"zero":false},"axis":null},"text":{"field":"t"}}},
{"data":{"values":[{"i":2.2,"v":3458,"t":"XAUUSD,H1\u00a0\u00a03447.13 3447.24 3443.48 3444.19"}]},"mark":{"type":"text","font":"DejaVu Sans","fontSize":11,"color":"#000000","align":"left","baseline":"middle"},"encoding":{"y":{"field":"v","type":"quantitative","scale":{"domain":[3247.25,3461],"nice":false,"zero":false},"axis":null},"text":{"field":"t"}}},
{"data":{"values":[{"i":0.84,"v":3458}]},"mark":{"type":"point","shape":"triangle-down","size":35,"filled":true,"color":"#000000","opacity":1},"encoding":{"y":{"field":"v","type":"quantitative","scale":{"domain":[3247.25,3461],"nice":false,"zero":false},"axis":null}}},
{"data":{"values":[{"i":98.8,"v":3456}]},"mark":{"type":"point","shape":"circle","size":6,"filled":true,"color":"#0000CD","opacity":1},"encoding":{"y":{"field":"v","type":"quantitative","scale":{"domain":[3247.25,3461],"nice":false,"zero":false},"axis":null}}},
{"data":{"values":[{"i":0.46,"v":3451.5,"t":"昨日数据:"},{"i":0.46,"v":3448.5,"t":"最高价 3454"},{"i":0.46,"v":3445.5,"t":"最低价 3404.47"},{"i":0.46,"v":3442.5,"t":"收盘价 3448.91"}]},"mark":{"type":"text","font":"DejaVu Sans, Noto Sans CJK SC","fontSize":11.5,"color":"#000000","align":"left","baseline":"middle"},"encoding":{"y":{"field":"v","type":"quantitative","scale":{"domain":[3247.25,3461],"nice":false,"zero":false},"axis":null},"text":{"field":"t"}}},
{"data":{"values":[{"i":147.5,"v":3452.75,"t":"阻力线 1","k":"res"},{"i":146,"v":3434.75,"t":"多空分界线","k":"mid"},{"i":147.5,"v":3416.75,"t":"支撑线 1","k":"sup"},{"i":147.5,"v":3405.75,"t":"支撑线 2","k":"sup"},{"i":147.5,"v":3387.75,"t":"支撑线 3","k":"sup"}]},"mark":{"type":"text","font":"Noto Sans CJK SC","fontSize":16,"fontWeight":300,"align":"left","baseline":"middle"},"encoding":{"y":{"field":"v","type":"quantitative","scale":{"domain":[3247.25,3461],"nice":false,"zero":false},"axis":null},"text":{"field":"t"},"color":{"field":"k","type":"nominal","legend":null,"scale":{"domain":["res","mid","sup"],"range":["#00FF00","#0000FF","#FF0000"]}}}},
{"data":{"values":[{"i":42.34,"v":3333,"t":"伦敦金："},{"i":80.84,"v":3333,"t":"做多，"},{"i":93.34,"v":3333,"t":"止损"},{"i":110.34,"v":3333,"t":"，"},{"i":115.09,"v":3333,"t":"目标"}]},"mark":{"type":"text","font":"Noto Sans CJK SC","fontSize":32,"fontWeight":300,"color":"#000000","align":"left","baseline":"middle"},"encoding":{"y":{"field":"v","type":"quantitative","scale":{"domain":[3247.25,3461],"nice":false,"zero":false},"axis":null},"text":{"field":"t"}}},
{"data":{"values":[{"i":58.84,"v":3333,"t":"3426—3427"},{"i":101.47,"v":3333,"t":"3418"},{"i":122.84,"v":3333,"t":"3455—3473."}]},"mark":{"type":"text","font":"Liberation Sans","fontSize":32,"fontWeight":"bold","color":"#000000","align":"left","baseline":"middle"},"encoding":{"y":{"field":"v","type":"quantitative","scale":{"domain":[3247.25,3461],"nice":false,"zero":false},"axis":null},"text":{"field":"t"}}},
{"data":{"name":"hist"},"mark":{"type":"bar","size":5,"orient":"vertical"},
"encoding":{"y":{"field":"v","type":"quantitative","scale":{"domain":[-27.5333,86.4667],"nice":false,"zero":false},"axis":null},"y2":{"datum":0},"color":{"field":"k","type":"nominal","legend":null,"scale":{"domain":["r","g","b","y"],"range":["#B22222","#00FF00","#0000CD","#FFFF00"]}}}},
{"data":{"values":[{"i":-0.1,"b":173.9625,"v":0}]},"mark":{"type":"rule","strokeWidth":1,"stroke":"#0000CD"},
"encoding":{"x2":{"field":"b"},"y":{"field":"v","type":"quantitative","scale":{"domain":[-27.5333,86.4667],"nice":false,"zero":false},"axis":null}}},
{"data":{"name":"macd"},"mark":{"type":"line","strokeWidth":2},
"encoding":{"y":{"field":"v","type":"quantitative","scale":{"domain":[-27.5333,86.4667],"nice":false,"zero":false},"axis":null},"color":{"field":"s","type":"nominal","legend":null,"scale":{"domain":["signal","main"],"range":["#E6E6FA","#000000"]}}}},
{"data":{"values":[{"i":0.46,"v":11.93,"t":"MACD_OsMA [CurrTF] (12,26,9) 10.9302 10.2702"}]},"mark":{"type":"text","font":"DejaVu Sans","fontSize":11,"color":"#000000","align":"left","baseline":"middle"},"encoding":{"y":{"field":"v","type":"quantitative","scale":{"domain":[-27.5333,86.4667],"nice":false,"zero":false},"axis":null},"text":{"field":"t"}}},
{"data":{"values":[{"i":-0.1,"b":161,"v":81.95,"w":92.87,"k":"hi"},{"i":-0.1,"b":161,"v":35.54,"w":45.41,"k":"lo"}]},"mark":{"type":"rect"},
"encoding":{"x2":{"field":"b"},"y":{"field":"v","type":"quantitative","scale":{"domain":[24.2,383.3],"nice":false,"zero":false},"axis":null},"y2":{"field":"w"},
"color":{"field":"k","type":"nominal","legend":null,"scale":{"domain":["hi","lo"],"range":["#FF0000","#0000FF"]}}}},
{"data":{"values":[{"i":-0.1,"b":173.9625,"v":81.95},{"i":-0.1,"b":173.9625,"v":45.41}]},"mark":{"type":"rule","strokeWidth":1,"stroke":"#00FF00"},
"encoding":{"x2":{"field":"b"},"y":{"field":"v","type":"quantitative","scale":{"domain":[24.2,383.3],"nice":false,"zero":false},"axis":null}}},
{"data":{"values":[{"i":-0.1,"b":173.9625,"v":84.89},{"i":-0.1,"b":173.9625,"v":81.11},{"i":-0.1,"b":173.9625,"v":59.27},{"i":-0.1,"b":173.9625,"v":37.85}]},"mark":{"type":"rule","strokeWidth":1,"stroke":"#000000","strokeDash":[9,7]},
"encoding":{"x2":{"field":"b"},"y":{"field":"v","type":"quantitative","scale":{"domain":[24.2,383.3],"nice":false,"zero":false},"axis":null}}},
{"data":{"name":"kdthin"},"mark":{"type":"line","strokeWidth":1},
"encoding":{"y":{"field":"v","type":"quantitative","scale":{"domain":[24.2,383.3],"nice":false,"zero":false},"axis":null},"color":{"field":"s","type":"nominal","legend":null,"scale":{"domain":["kslow","dslow"],"range":["#FFFF00","#00FFFF"]}}}},
{"data":{"name":"kdthick"},"mark":{"type":"line","strokeWidth":2},
"encoding":{"y":{"field":"v","type":"quantitative","scale":{"domain":[24.2,383.3],"nice":false,"zero":false},"axis":null},"color":{"field":"s","type":"nominal","legend":null,"scale":{"domain":["d","k"],"range":["#E6E6FA","#000000"]}}}},
{"data":{"values":[{"i":1.96,"v":88.04,"t":"休分析线 0.9510 0.5500 0.4500\u00a0\u00a0KD防钝化 (2) 87.9857 88.2165 82.8827 81.9742"}]},"mark":{"type":"text","font":"DejaVu Sans, Noto Sans CJK SC","fontSize":11.5,"color":"#000000","align":"left","baseline":"middle"},"encoding":{"y":{"field":"v","type":"quantitative","scale":{"domain":[24.2,383.3],"nice":false,"zero":false},"axis":null},"text":{"field":"t"}}},
{"data":{"values":[{"i":-0.1,"b":173.9625,"v":3460.375},{"i":-0.1,"b":173.9625,"v":3324.625},{"i":-0.1,"b":173.9625,"v":3324.125},{"i":-0.1,"b":173.9625,"v":3288.625},{"i":-0.1,"b":173.9625,"v":3288.125},{"i":-0.1,"b":173.9625,"v":3253.625}]},"mark":{"type":"rule","strokeWidth":1,"stroke":"#000000"},
"encoding":{"x2":{"field":"b"},"y":{"field":"v","type":"quantitative","scale":{"domain":[3247.25,3461],"nice":false,"zero":false},"axis":null}}},
{"data":{"values":[{"i":-0.1,"v":3460.375,"w":3253.625}]},"mark":{"type":"rule","strokeWidth":1,"stroke":"#000000"},
"encoding":{"y":{"field":"v","type":"quantitative","scale":{"domain":[3247.25,3461],"nice":false,"zero":false},"axis":null},"y2":{"field":"w"}}},
{"data":{"values":[{"i":152.2,"v":59.9}]},"mark":{"type":"point","shape":"circle","size":1900,"filled":false,"color":"#FFFFFF","strokeWidth":8,"opacity":0.3},"encoding":{"y":{"field":"v","type":"quantitative","scale":{"domain":[24.2,383.3],"nice":false,"zero":false},"axis":null}}},
{"data":{"values":[{"i":152.2,"v":59.9}]},"mark":{"type":"point","shape":"diamond","size":200,"filled":true,"color":"#FFFFFF","opacity":0.35},"encoding":{"y":{"field":"v","type":"quantitative","scale":{"domain":[24.2,383.3],"nice":false,"zero":false},"axis":null}}},
{"data":{"values":[{"i":162.8,"v":83,"t":"91PME.COM"}]},"mark":{"type":"text","font":"Noto Sans","fontSize":30,"fontWeight":"bold","color":"#FFFFFF","opacity":0.3,"angle":331,"align":"center","baseline":"middle"},"encoding":{"y":{"field":"v","type":"quantitative","scale":{"domain":[24.2,383.3],"nice":false,"zero":false},"axis":null},"text":{"field":"t"}}},
{"data":{"values":[{"i":163.3,"v":75.4,"t":"鑫汇宝贵金属"}]},"mark":{"type":"text","font":"Noto Sans CJK SC","fontSize":19,"fontWeight":"bold","color":"#FFFFFF","opacity":0.3,"angle":331,"align":"center","baseline":"middle"},"encoding":{"y":{"field":"v","type":"quantitative","scale":{"domain":[24.2,383.3],"nice":false,"zero":false},"axis":null},"text":{"field":"t"}}}
]
}
